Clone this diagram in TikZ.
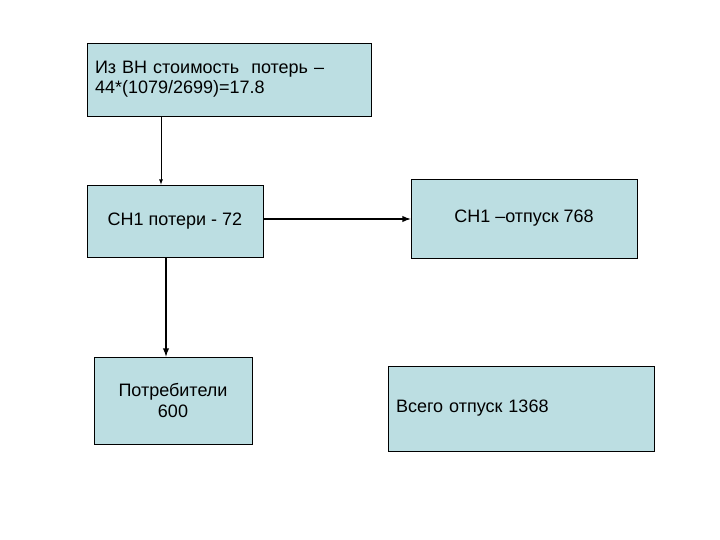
\documentclass[tikz,border=0pt]{standalone}
\usepackage{fontspec}
\setmainfont{Liberation Sans}
\usepackage{xcolor}
\usetikzlibrary{arrows, positioning}

\definecolor{boxblue}{RGB}{188,222,226}

\begin{document}
\begin{tikzpicture}[x=1pt, y=-1pt, >=latex, font=\fontsize{18}{21}\selectfont,
    block/.style={draw, rectangle, fill=boxblue, align=center, inner sep=0pt, line width=0.8pt},
    link/.style={->, line width=0.8pt},
    boldlink/.style={->, line width=1.8pt}]

\useasboundingbox (0,0) rectangle (720,540);

\node[block, minimum width=284pt, minimum height=73pt, text width=268pt, align=left,
      font=\fontsize{18}{20}\selectfont] (cost) at (229,79.5)
      {Из ВН стоимость \ потерь --\\44*(1079/2699)=17.8};
\node[block, minimum width=176pt, minimum height=72pt] (loss) at (175,221) {СН1 потери - 72};
\node[block, minimum width=226pt, minimum height=79pt] (rel) at (524,218.5) {СН1 --отпуск 768};
\node[block, minimum width=158pt, minimum height=87pt] (cons) at (173,400.5) {Потребители\\600};
\node[block, minimum width=266pt, minimum height=85pt, text width=250pt, align=left] (total) at (521,408.5)
      {Всего отпуск 1368};

\draw[link] ([xshift=-68pt]cost.south) -- ([xshift=-68pt]cost.south |- loss.north);
\draw[boldlink] ([yshift=2pt]loss.east) -- ([yshift=2pt]loss.east -| rel.west);
\draw[boldlink] ([xshift=-9pt]loss.south) -- ([xshift=-9pt]loss.south |- cons.north);
\end{tikzpicture}
\end{document}
